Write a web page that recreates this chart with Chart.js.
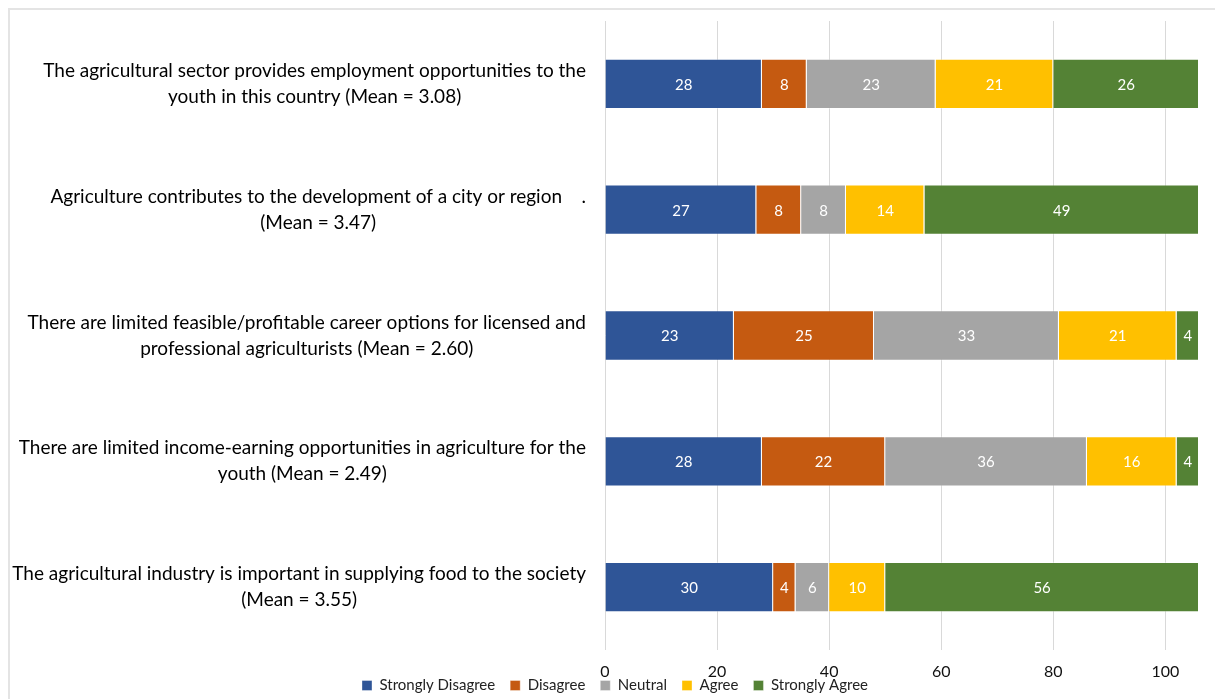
<!DOCTYPE html>
<html>
<head>
<meta charset="utf-8">
<script src="https://cdn.jsdelivr.net/npm/chart.js@4.4.1/dist/chart.umd.min.js"></script>
<style>
  body { margin: 0; background: #fff; overflow: hidden; }
  #frame {
    position: absolute; left: 8px; top: 8px;
    width: 1220px; height: 700px;
    border: 2px solid #e4e4e4; background: #fff;
    overflow: hidden;
  }
  #chart { display: block; }
</style>
</head>
<body>
<div id="frame"><canvas id="chart" width="1205" height="693"></canvas></div>
<script>
const statements = [
  ['The agricultural sector provides employment opportunities to the', 'youth in this country (Mean = 3.08)'],
  ['Agriculture contributes to the development of a city or region    .', '(Mean = 3.47)'],
  ['There are limited feasible/profitable career options for licensed and', 'professional agriculturists (Mean = 2.60)'],
  ['There are limited income-earning opportunities in agriculture for the', 'youth (Mean = 2.49)'],
  ['The agricultural industry is important in supplying food to the society', '(Mean = 3.55)']
];

const stronglyDisagree = [28, 27, 23, 28, 30];
const disagree = [8, 8, 25, 22, 4];
const neutral = [23, 8, 33, 36, 6];
const agree = [21, 14, 21, 16, 10];
const stronglyAgree = [26, 49, 4, 4, 56];

const xTicks = [0, 20, 40, 60, 80, 100];

const FONT = 'Lato, "Open Sans", sans-serif';

// multi-line category labels, each line centred inside a right-aligned block,
// plus the x tick numbers (drawn here so they can sit close to the legend)
const axisText = {
  id: 'axisText',
  afterDraw(chart) {
    const ctx = chart.ctx;
    const yScale = chart.scales.y;
    const xScale = chart.scales.x;
    const right = chart.chartArea.left - 19;
    ctx.save();
    ctx.font = '19px ' + FONT;
    ctx.fillStyle = '#000';
    ctx.textAlign = 'center';
    ctx.textBaseline = 'middle';
    statements.forEach((lines, i) => {
      const y = yScale.getPixelForValue(i);
      const w = Math.max(...lines.map(l => ctx.measureText(l).width));
      const cx = right - w / 2;
      const lh = 26;
      lines.forEach((line, j) => {
        ctx.fillText(line, cx, y + (j - (lines.length - 1) / 2) * lh);
      });
    });

    ctx.font = '16px ' + FONT;
    ctx.fillStyle = '#111';
    xTicks.forEach(v => {
      ctx.fillText(v, xScale.getPixelForValue(v), chart.chartArea.bottom + 22);
    });
    ctx.restore();
  }
};

const barValues = {
  id: 'barValues',
  afterDatasetsDraw(chart) {
    const ctx = chart.ctx;
    ctx.save();
    ctx.font = '15px ' + FONT;
    ctx.fillStyle = '#fff';
    ctx.textAlign = 'center';
    ctx.textBaseline = 'middle';
    chart.data.datasets.forEach((ds, di) => {
      chart.getDatasetMeta(di).data.forEach((bar, i) => {
        const cx = (bar.x + bar.base) / 2;
        ctx.fillText(ds.data[i], cx, bar.y + 1);
      });
    });
    ctx.restore();
  }
};

new Chart(document.getElementById('chart'), {
  type: 'bar',
  data: {
    labels: statements.map(s => s.join(' ')),
    datasets: [
      { label: 'Strongly Disagree', data: stronglyDisagree, backgroundColor: '#2f5597' },
      { label: 'Disagree', data: disagree, backgroundColor: '#c55a11' },
      { label: 'Neutral', data: neutral, backgroundColor: '#a5a5a5' },
      { label: 'Agree', data: agree, backgroundColor: '#ffc000' },
      { label: 'Strongly Agree', data: stronglyAgree, backgroundColor: '#548235' }
    ]
  },
  options: {
    indexAxis: 'y',
    responsive: false,
    animation: false,
    datasets: {
      bar: {
        categoryPercentage: 0.8,
        barPercentage: 0.5,
        borderWidth: 1,
        borderColor: 'rgba(255,255,255,0.35)'
      }
    },
    layout: { padding: { top: 11, right: 16, left: 21, bottom: 0 } },
    scales: {
      x: {
        stacked: true,
        min: 0,
        max: 106,
        afterBuildTicks: (scale) => { scale.ticks = xTicks.map(v => ({ value: v })); },
        afterFit: (scale) => { scale.height = 13; },
        grid: { color: '#d9d9d9', drawTicks: false },
        border: { display: false },
        ticks: { display: false }
      },
      y: {
        stacked: true,
        grid: { display: false },
        border: { display: false },
        ticks: { display: false },
        afterFit: (scale) => { scale.width = 574; }
      }
    },
    plugins: {
      legend: {
        position: 'bottom',
        labels: {
          boxWidth: 10,
          boxHeight: 10,
          padding: 15,
          color: '#222',
          font: { family: FONT, size: 15 }
        }
      },
      tooltip: { enabled: false }
    }
  },
  plugins: [axisText, barValues]
});
</script>
</body>
</html>
